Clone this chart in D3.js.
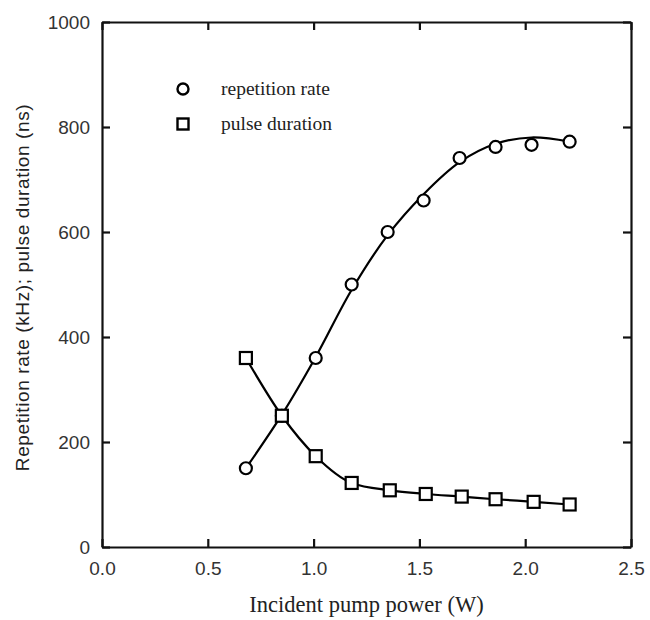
<!DOCTYPE html>
<html>
<head>
<meta charset="utf-8">
<script src="https://cdn.jsdelivr.net/npm/d3@7"></script>
<style>
  body { margin: 0; background: #fff; }
  svg { display: block; }
</style>
</head>
<body>
<svg id="chart"></svg>
<script>
// values
const powerRate = [0.68, 0.85, 1.01, 1.18, 1.35, 1.52, 1.69, 1.86, 2.03, 2.21];
const repRate = [150, 250, 360, 500, 600, 660, 741, 762, 766, 772];
// smooth fitted curve through the repetition rate points
const fitPower = [0.68, 0.85, 1.01, 1.18, 1.35, 1.52, 1.69, 1.86, 2.03, 2.21];
const fitRate = [150, 252, 362, 490, 594, 672, 733, 768, 780, 772];
const powerPulse = [0.68, 0.85, 1.01, 1.18, 1.36, 1.53, 1.70, 1.86, 2.04, 2.21];
const pulseDur = [360, 250, 173, 122, 108, 101, 96, 91, 86, 81];
const xTicks = [0, 0.5, 1.0, 1.5, 2.0, 2.5];
const yTicks = [0, 200, 400, 600, 800, 1000];
const legendLabels = ["repetition rate", "pulse duration"];

const svgWidth = 650, svgHeight = 620;
const margin = { top: 22, right: 19, bottom: 73, left: 102 };

const svg = d3.select("#chart")
  .attr("width", svgWidth)
  .attr("height", svgHeight);

const xScale = d3.scaleLinear()
  .domain([0, 2.5])
  .range([margin.left, svgWidth - margin.right]);

const yScale = d3.scaleLinear()
  .domain([0, 1000])
  .range([svgHeight - margin.bottom, margin.top]);

const x0 = xScale.range()[0], x1 = xScale.range()[1];
const y0 = yScale.range()[0], y1 = yScale.range()[1];

// frame + inward ticks
const tickLen = 8;
const axisColor = "#111";

const xAxis = d3.axisBottom(xScale).tickValues(xTicks).tickSizeInner(-tickLen).tickSizeOuter(0).tickFormat(d3.format(".1f")).tickPadding(15);
const yAxis = d3.axisLeft(yScale).tickValues(yTicks).tickSizeInner(-tickLen).tickSizeOuter(0).tickFormat(d3.format("d")).tickPadding(12);

const gx = svg.append("g").attr("transform", `translate(0,${y0})`).call(xAxis);
const gy = svg.append("g").attr("transform", `translate(${x0},0)`).call(yAxis);
const gxTop = svg.append("g").attr("transform", `translate(0,${y1})`)
  .call(d3.axisTop(xScale).tickValues(xTicks).tickSizeInner(-tickLen).tickSizeOuter(0).tickFormat(""));
const gyRight = svg.append("g").attr("transform", `translate(${x1},0)`)
  .call(d3.axisRight(yScale).tickValues(yTicks).tickSizeInner(-tickLen).tickSizeOuter(0).tickFormat(""));

[gx, gy, gxTop, gyRight].forEach(g => {
  g.select(".domain").attr("stroke", axisColor).attr("stroke-width", 2.2);
  g.selectAll(".tick line").attr("stroke", axisColor).attr("stroke-width", 2.2);
  g.selectAll(".tick text")
    .attr("fill", "#333")
    .style("font-family", "'Liberation Sans', Arial, sans-serif")
    .style("font-size", "19px");
});

// line series
const rateData = powerRate.map((p, i) => ({ x: p, y: repRate[i] }));
const fitData = fitPower.map((p, i) => ({ x: p, y: fitRate[i] }));
const pulseData = powerPulse.map((p, i) => ({ x: p, y: pulseDur[i] }));

const smoothLine = d3.line()
  .x(d => xScale(d.x))
  .y(d => yScale(d.y))
  .curve(d3.curveCatmullRom.alpha(0.5));

const pulseLine = d3.line()
  .x(d => xScale(d.x))
  .y(d => yScale(d.y))
  .curve(d3.curveMonotoneX);

svg.append("path")
  .datum(fitData)
  .attr("d", smoothLine)
  .attr("fill", "none")
  .attr("stroke", "#000")
  .attr("stroke-width", 2.2);

svg.append("path")
  .datum(pulseData)
  .attr("d", pulseLine)
  .attr("fill", "none")
  .attr("stroke", "#000")
  .attr("stroke-width", 2.2);

// markers
svg.selectAll("circle.rate")
  .data(rateData)
  .enter()
  .append("circle")
  .attr("class", "rate")
  .attr("cx", d => xScale(d.x))
  .attr("cy", d => yScale(d.y))
  .attr("r", 6)
  .attr("fill", "#fff")
  .attr("stroke", "#000")
  .attr("stroke-width", 2.2);

const sq = 12;
svg.selectAll("rect.pulse")
  .data(pulseData)
  .enter()
  .append("rect")
  .attr("class", "pulse")
  .attr("x", d => xScale(d.x) - sq / 2)
  .attr("y", d => yScale(d.y) - sq / 2)
  .attr("width", sq)
  .attr("height", sq)
  .attr("fill", "#fff")
  .attr("stroke", "#000")
  .attr("stroke-width", 2.2);

// legend
const legend = svg.append("g").attr("transform", "translate(183,89)");
legend.append("circle")
  .attr("cx", 0).attr("cy", 0).attr("r", 5.5)
  .attr("fill", "#fff").attr("stroke", "#000").attr("stroke-width", 2.4);
legend.append("rect")
  .attr("x", -5.5).attr("y", 35 - 5.5).attr("width", 11).attr("height", 11)
  .attr("fill", "#fff").attr("stroke", "#000").attr("stroke-width", 2.4);
legend.selectAll("text")
  .data(legendLabels)
  .enter()
  .append("text")
  .attr("x", 38)
  .attr("y", (d, i) => i * 35 + 6)
  .style("font-family", "'Liberation Serif', 'Times New Roman', serif")
  .style("font-size", "19.5px")
  .attr("fill", "#222")
  .text(d => d);

// axis titles
svg.append("text")
  .attr("x", (x0 + x1) / 2)
  .attr("y", 612)
  .attr("text-anchor", "middle")
  .style("font-family", "'Liberation Serif', 'Times New Roman', serif")
  .style("font-size", "22.5px")
  .attr("fill", "#222")
  .text("Incident pump power (W)");

svg.append("text")
  .attr("transform", `translate(29,${(y0 + y1) / 2 + 3}) rotate(-90)`)
  .attr("text-anchor", "middle")
  .style("font-family", "'Liberation Sans', Arial, sans-serif")
  .style("font-size", "19px")
  .style("letter-spacing", "0.6px")
  .attr("fill", "#222")
  .text("Repetition rate (kHz); pulse duration (ns)");
</script>
</body>
</html>
